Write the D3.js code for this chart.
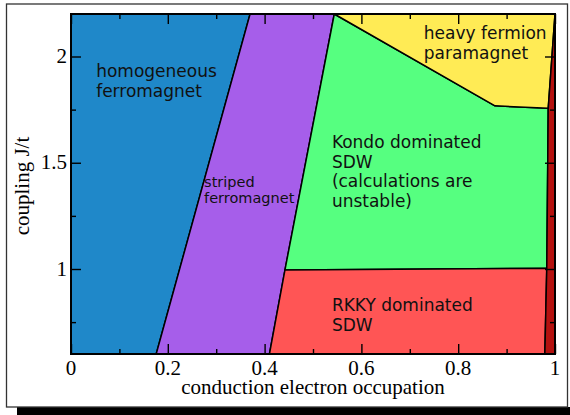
<!DOCTYPE html>
<html>
<head>
<meta charset="utf-8">
<script src="https://cdn.jsdelivr.net/npm/d3@7"></script>
<style>
body { margin: 0; background: #fff; }
</style>
</head>
<body>
<script>
// phase regions as [occupation, J/t] corners
var homogeneousFM = [[0, 0.6], [0, 2.2], [0.370, 2.2], [0.176, 0.6]]
var stripedFM = [[0.176, 0.6], [0.370, 2.2], [0.544, 2.2], [0.442, 0.995], [0.410, 0.6]]
var kondoSDW = [[0.544, 2.2], [0.876, 1.768], [0.986, 1.756], [0.983, 1.003], [0.442, 0.995]]
var heavyFermion = [[0.544, 2.2], [1.0, 2.2], [0.986, 1.756], [0.876, 1.768]]
var rkkySDW = [[0.410, 0.6], [0.442, 0.995], [0.983, 1.003], [0.979, 0.6]]
var halfFilling = [[1.0, 2.2], [1.0, 0.6], [0.979, 0.6], [0.983, 1.003], [0.986, 1.756]]

var xTicks = [0, 0.2, 0.4, 0.6, 0.8, 1]
var xMinor = [0.1, 0.3, 0.5, 0.7, 0.9]
var yTicks = [1, 1.5, 2]
var yMinor = [0.75, 1.25, 1.75]

var xTitle = "conduction electron occupation"
var yTitle = "coupling J/t"

var margin = {top: 14, right: 15, bottom: 61, left: 71},
    width = 570 - margin.left - margin.right,
    height = 415 - margin.top - margin.bottom;

var svg = d3.select("body").append("svg")
    .attr("width", 570)
    .attr("height", 415)

// page frame with the shadow underneath
svg.append("rect")
    .attr("x", 17).attr("y", 407)
    .attr("width", 560).attr("height", 10)
    .attr("fill", "#000")
svg.append("rect")
    .attr("x", 6.5).attr("y", 4)
    .attr("width", 561).attr("height", 403)
    .attr("fill", "none")
    .attr("stroke", "#333")
    .attr("stroke-width", 1.3)

var g = svg.append("g")
    .attr("transform", "translate(" + margin.left + "," + margin.top + ")")

var x = d3.scaleLinear().domain([0, 1]).range([0, width])
var y = d3.scaleLinear().domain([0.6, 2.2]).range([height, 0])

var line = d3.line()
    .x(d => x(d[0]))
    .y(d => y(d[1]))

var regions = [
    {pts: homogeneousFM, color: "#1f88c9"},
    {pts: stripedFM, color: "#a65eea"},
    {pts: kondoSDW, color: "#56ff80"},
    {pts: heavyFermion, color: "#ffeb55"},
    {pts: rkkySDW, color: "#ff5555"},
    {pts: halfFilling, color: "#b4110f"}
]

g.selectAll("path.region")
    .data(regions)
    .enter()
    .append("path")
    .attr("class", "region")
    .attr("d", d => line(d.pts) + "Z")
    .attr("fill", d => d.color)
    .attr("stroke", "#000")
    .attr("stroke-width", 1.5)
    .attr("stroke-linejoin", "round")

// region labels
var labels = [
    {lines: ["homogeneous", "ferromagnet"], x: 0.052, y: 1.904, size: 17, gap: 20},
    {lines: ["striped", "ferromagnet"], x: 0.275, y: 1.385, size: 14.5, gap: 16},
    {lines: ["heavy fermion", "paramagnet"], x: 0.729, y: 2.081, size: 17, gap: 19.5},
    {lines: ["Kondo dominated", "SDW", "(calculations are", "unstable)"], x: 0.539, y: 1.568, size: 17, gap: 19.5},
    {lines: ["RKKY dominated", "SDW"], x: 0.539, y: 0.802, size: 17, gap: 19.5}
]

labels.forEach(function(l) {
    var t = g.append("text")
        .attr("x", x(l.x))
        .attr("y", y(l.y))
        .attr("font-family", "DejaVu Sans")
        .style("font-size", l.size + "px")
        .attr("fill", "#111")
    l.lines.forEach(function(s, i) {
        t.append("tspan")
            .attr("x", x(l.x))
            .attr("dy", i == 0 ? 0 : l.gap)
            .text(s)
    })
})

// ticks on all four sides, pointing in
function ticks(axis, vals, size) {
    return axis.tickValues(vals).tickSizeInner(size).tickSizeOuter(0).tickFormat("")
}
g.append("g").attr("transform", "translate(0," + height + ")").call(ticks(d3.axisBottom(x), xTicks, -10))
g.append("g").attr("transform", "translate(0," + height + ")").call(ticks(d3.axisBottom(x), xMinor, -5))
g.append("g").call(ticks(d3.axisTop(x), xTicks, -10))
g.append("g").call(ticks(d3.axisTop(x), xMinor, -5))
g.append("g").call(ticks(d3.axisLeft(y), yTicks, -10))
g.append("g").call(ticks(d3.axisLeft(y), yMinor, -5))
g.append("g").attr("transform", "translate(" + width + ",0)").call(ticks(d3.axisRight(y), yTicks, -10))
g.append("g").attr("transform", "translate(" + width + ",0)").call(ticks(d3.axisRight(y), yMinor, -5))
g.selectAll(".domain").remove()
g.selectAll(".tick line").attr("stroke", "#000").attr("stroke-width", 1.4)

// plot frame
g.append("rect")
    .attr("width", width).attr("height", height)
    .attr("fill", "none")
    .attr("stroke", "#000")
    .attr("stroke-width", 2)

// tick labels
var fmt = d3.format("~g")
g.selectAll("text.xlab")
    .data(xTicks)
    .enter()
    .append("text")
    .attr("class", "xlab")
    .attr("x", d => x(d))
    .attr("y", height + 21)
    .attr("text-anchor", "middle")
    .attr("font-family", "Liberation Serif")
    .style("font-size", "21px")
    .text(d => fmt(d))

g.selectAll("text.ylab")
    .data(yTicks)
    .enter()
    .append("text")
    .attr("class", "ylab")
    .attr("x", -4)
    .attr("y", d => y(d))
    .attr("dy", "0.32em")
    .attr("text-anchor", "end")
    .attr("font-family", "Liberation Serif")
    .style("font-size", "21px")
    .text(d => fmt(d))

// axis titles
g.append("text")
    .attr("x", width / 2)
    .attr("y", height + 40)
    .attr("text-anchor", "middle")
    .attr("font-family", "Liberation Serif")
    .style("font-size", "21px")
    .text(xTitle)

g.append("text")
    .attr("transform", "translate(" + (29 - margin.left) + "," + (height / 2 + 2) + ") rotate(-90)")
    .attr("text-anchor", "middle")
    .attr("font-family", "Liberation Serif")
    .style("font-size", "21px")
    .text(yTitle)
</script>
</body>
</html>
